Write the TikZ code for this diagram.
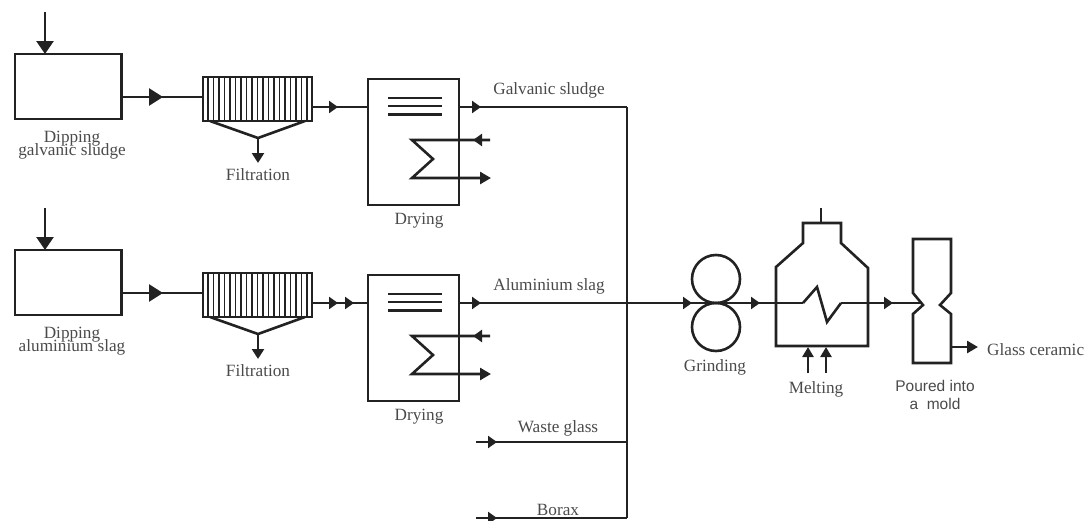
\documentclass[tikz,border=0pt]{standalone}
\usepackage{fontspec}
\setmainfont{Liberation Serif}
\newfontfamily\moldfont{Liberation Sans}
\usepackage{xcolor}
\usetikzlibrary{arrows.meta,decorations.markings}
\definecolor{inkline}{HTML}{222222}
\definecolor{inktext}{HTML}{4A4A4A}
\newcommand{\labfont}{\fontsize{17.2}{13}\selectfont\lineskiplimit=-20pt\relax}
\tikzset{
  flowline/.style={draw=inkline,line width=2.6pt},
  unitbox/.style={flowline,rectangle,inner sep=0pt,outer sep=0pt},
  lab/.style={text=inktext,font=\labfont,align=center,inner sep=0pt,yshift=-1.2pt},
  smallhead/.style={postaction={decorate,decoration={markings,mark=at position #1 with {\arrow{Triangle[length=9pt,width=12pt]}}}}},
  bighead/.style={postaction={decorate,decoration={markings,mark=at position #1 with {\arrow{Triangle[length=14pt,width=17pt]}}}}},
  endhead/.style={-{Triangle[length=11pt,width=12pt]}}
}
\begin{document}
\begin{tikzpicture}[x=1pt,y=-1pt]
  \useasboundingbox (0,0) rectangle (1088,520);
  % collecting line
  \coordinate (topjoin) at (627,107);
  \coordinate (midjoin) at (627,303);
  \coordinate (wastejoin) at (627,442);
  \coordinate (boraxjoin) at (627,518);
  \draw[flowline,line join=miter] (topjoin) -- (boraxjoin);
  % the two pretreatment rows
  \foreach \r/\dy/\tanktext/\outtext in {g/0/Dipping\\galvanic sludge/Galvanic sludge,a/196/Dipping\\aluminium slag/Aluminium slag}{
    \node[unitbox,minimum width=106.5pt,minimum height=65pt] (tank\r) at (68.2,86.5+\dy) {};
    \node[lab] (tanklab\r) at (72,144+\dy) {\tanktext};
    \coordinate (feed\r) at (45,12+\dy);
    \draw[flowline,-{Triangle[length=13pt,width=17pt]}] (feed\r) -- (feed\r |- tank\r.north);
    \node[unitbox,minimum width=109pt,minimum height=44pt] (filter\r) at (257.5,99+\dy) {};
    \foreach \x in {208,213.5,...,308}
      \draw[inkline,line width=1.5pt] (\x,77+\dy) -- (\x,121+\dy);
    \coordinate (trough\r) at (258,138+\dy);
    \draw[flowline] (210,121+\dy) -- (trough\r) -- (305,121+\dy);
    \coordinate (drain\r) at (258,163+\dy);
    \draw[flowline,-{Triangle[length=10pt,width=12pt]}] (trough\r) -- (drain\r);
    \node[lab] (filterlab\r) at (258,173+\dy) {Filtration};
    \coordinate (tankout\r) at (122,97+\dy);
    \draw[flowline,bighead=41pt] (tankout\r) -- (tankout\r -| filter\r.west);
    \node[unitbox,minimum width=91pt,minimum height=126pt] (dryer\r) at (413.5,142+\dy) {};
    \foreach \yy in {98,106,114.5}
      \draw[flowline] (388,\yy+\dy) -- (442,\yy+\dy);
    \node[lab] (dryerlab\r) at (419,219+\dy) {Drying};
    \coordinate (hotin\r) at (490,140+\dy);
    \coordinate (hotout\r) at (491,178+\dy);
    \draw[flowline,line join=miter,endhead,smallhead=17pt] (hotin\r) -- (412,140+\dy) -- (433,159+\dy) -- (412,178+\dy) -- (hotout\r);
    \node[lab] (outlab\r) at (549,89.5+\dy) {\outtext};
  }
  % row outlets
  \coordinate (filtoutg) at (312,107);
  \coordinate (filtouta) at (312,303);
  \draw[flowline,smallhead=26pt] (filtoutg) -- (filtoutg -| dryerg.west);
  \draw[flowline,smallhead=26pt,smallhead=42pt] (filtouta) -- (filtouta -| dryera.west);
  \coordinate (dryoutg) at (459,107);
  \coordinate (dryouta) at (459,303);
  \draw[flowline,line join=miter,smallhead=22pt] (dryoutg) -- (topjoin);
  % waste glass and borax
  \coordinate (wastein) at (476,442);
  \coordinate (boraxin) at (476,518);
  \draw[flowline,smallhead=21pt] (wastein) -- (wastejoin);
  \draw[flowline,smallhead=21pt] (boraxin) -- (boraxjoin);
  \node[lab] (wastelab) at (558,427) {Waste glass};
  \node[lab] (boraxlab) at (558,509) {Borax};
  % grinding
  \node[flowline,circle,minimum size=48pt,inner sep=0pt] (rollup) at (716,279) {};
  \node[flowline,circle,minimum size=48pt,inner sep=0pt] (rolldown) at (716,327) {};
  \node[lab] (grindlab) at (715,366) {Grinding};
  % melting furnace
  \coordinate (coilin) at (803,303);
  \coordinate (coilout) at (841,303);
  \coordinate (chimney) at (821,208);
  \coordinate (furnacetop) at (821,223);
  \draw[flowline,line join=miter] (776,346) -- (776,267) -- (803,243) -- (803,223) -- (841,223) -- (841,243) -- (868,268) -- (868,346) -- cycle;
  \draw[flowline] (chimney) -- (furnacetop);
  \draw[flowline,smallhead=22pt,smallhead=233pt,smallhead=301pt] (dryouta) -- (midjoin) -- (coilin);
  \draw[flowline,line join=miter] (coilin) -- (817,287) -- (827,322) -- (coilout);
  \foreach \x in {808,826}
    \draw[flowline,-{Triangle[length=10pt,width=11pt]}] (\x,373) -- (\x,347);
  \node[lab] (meltlab) at (816,388) {Melting};
  % mold
  \coordinate (moldin) at (922,303);
  \coordinate (moldout) at (951,347);
  \coordinate (product) at (978,347);
  \draw[flowline,line join=miter] (913,239) -- (913,293) -- (923,305) -- (913,314) -- (913,363) -- (951,363) -- (951,314) -- (940,305) -- (951,293) -- (951,239) -- cycle;
  \draw[flowline,smallhead=52pt] (coilout) -- (moldin);
  \draw[flowline,-{Triangle[length=11pt,width=12pt]}] (moldout) -- (product);
  \node[lab,anchor=west] (productlab) at (987,348) {Glass ceramic};
  \node[lab,font=\moldfont\fontsize{15.5}{18}\selectfont] (moldlab) at (935,394) {Poured into\\a\ \ mold};
\end{tikzpicture}
\end{document}
